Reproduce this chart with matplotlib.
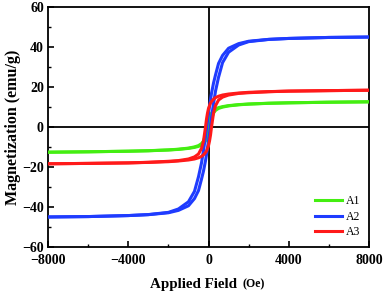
import matplotlib
matplotlib.use('Agg')
import matplotlib.pyplot as plt
from matplotlib.ticker import MultipleLocator

plt.rcParams['font.family'] = ['Liberation Serif', 'DejaVu Serif']

# applied field grid (Oe), shared by every branch
field = [-8000, -6000, -4000, -3000, -2000, -1500, -1000, -700, -500, -350, -250, -150, -100, -50,
         0, 50, 100, 150, 250, 350, 500, 700, 1000, 1500, 2000, 3000, 4000, 6000, 8000]

# A1 (green) - descending and ascending branches
a1_down = [-12.6, -12.4, -12.1, -11.85, -11.45, -11.1, -10.55, -9.95, -9.3, -8.3, -7.0, -4.0, -2.0, 0.0,
           2.0, 4.0, 5.8, 7.0, 8.3, 9.0, 9.7, 10.2, 10.7, 11.2, 11.5, 11.9, 12.1, 12.4, 12.6]
a1_up = [-12.6, -12.4, -12.1, -11.9, -11.5, -11.2, -10.7, -10.2, -9.7, -9.0, -8.3, -7.0, -5.8, -4.0,
         -2.0, 0.0, 2.0, 4.0, 7.0, 8.3, 9.3, 9.95, 10.55, 11.1, 11.45, 11.85, 12.1, 12.4, 12.6]

# A2 (blue)
a2_down = [-45.0, -44.8, -44.3, -43.8, -42.7, -41.0, -37.4, -32.2, -24.9, -18.0, -11.7, -4.7, -0.8, 3.2,
           6.8, 10.3, 13.8, 16.9, 22.0, 26.1, 31.8, 35.8, 39.4, 41.7, 42.9, 43.85, 44.3, 44.8, 45.0]
a2_up = [-45.0, -44.8, -44.3, -43.85, -42.9, -41.7, -39.4, -35.8, -31.8, -26.1, -22.0, -16.9, -13.8, -10.3,
         -6.8, -3.2, 0.8, 4.7, 11.7, 18.0, 24.9, 32.2, 37.4, 41.0, 42.7, 43.8, 44.3, 44.8, 45.0]

# A3 (red)
a3_down = [-18.4, -18.2, -17.95, -17.65, -17.15, -16.8, -16.0, -14.95, -13.5, -10.7, -7.0, 0.0, 4.0, 7.0,
           9.3, 10.7, 12.0, 12.75, 13.9, 14.7, 15.4, 16.0, 16.5, 17.0, 17.35, 17.7, 17.95, 18.2, 18.4]
a3_up = [-18.4, -18.2, -17.95, -17.7, -17.35, -17.0, -16.5, -16.0, -15.4, -14.7, -13.9, -12.75, -12.0, -10.7,
         -9.3, -7.0, -4.0, 0.0, 7.0, 10.7, 13.5, 14.95, 16.0, 16.8, 17.15, 17.65, 17.95, 18.2, 18.4]

labels = ['A1', 'A2', 'A3']
colors = ['#44ee11', '#1f3cff', '#ff1a1a']

fig = plt.figure(figsize=(3.86, 2.94), dpi=100)
ax = fig.add_axes([0.1244, 0.16, 0.8316, 0.816])

# zero lines
ax.axhline(0, color='black', lw=1.3, zorder=1)
ax.axvline(0, color='black', lw=1.3, zorder=1)

branches = [(a1_down, a1_up), (a2_down, a2_up), (a3_down, a3_up)]
for (down, up), lab, col in zip(branches, labels, colors):
    ax.plot(field, down, color=col, lw=2.2, label=lab, zorder=3)
    ax.plot(field, up, color=col, lw=2.2, zorder=3)

ax.set_xlim(-8000, 8000)
ax.set_ylim(-60, 60)
ax.xaxis.set_major_locator(MultipleLocator(4000))
ax.xaxis.set_minor_locator(MultipleLocator(2000))
ax.yaxis.set_major_locator(MultipleLocator(20))
ax.yaxis.set_minor_locator(MultipleLocator(10))
ax.tick_params(which='major', direction='in', length=4, width=1.2, labelsize=10)
ax.tick_params(axis='x', which='major', pad=5)
ax.tick_params(axis='y', which='major', pad=3)
ax.tick_params(which='minor', direction='in', length=2.5, width=1.0)
for lbl in ax.get_xticklabels() + ax.get_yticklabels():
    lbl.set_fontweight('bold')
for sp in ax.spines.values():
    sp.set_linewidth(1.3)

ax.set_ylabel('Magnetization (emu/g)', fontsize=11.5, fontweight='bold', labelpad=1)

# x label with smaller unit part
fig.text(0.614, 0.034, 'Applied Field', ha='right', va='center', fontsize=10.8, fontweight='bold')
fig.text(0.627, 0.034, '(Oe)', ha='left', va='center', fontsize=8.5, fontweight='bold')

ax.legend(loc='lower right', frameon=False, fontsize=8.5, handlelength=2.3, handletextpad=0.3,
          labelspacing=0.28, borderaxespad=0.35)

plt.savefig('out.png', dpi=100)
